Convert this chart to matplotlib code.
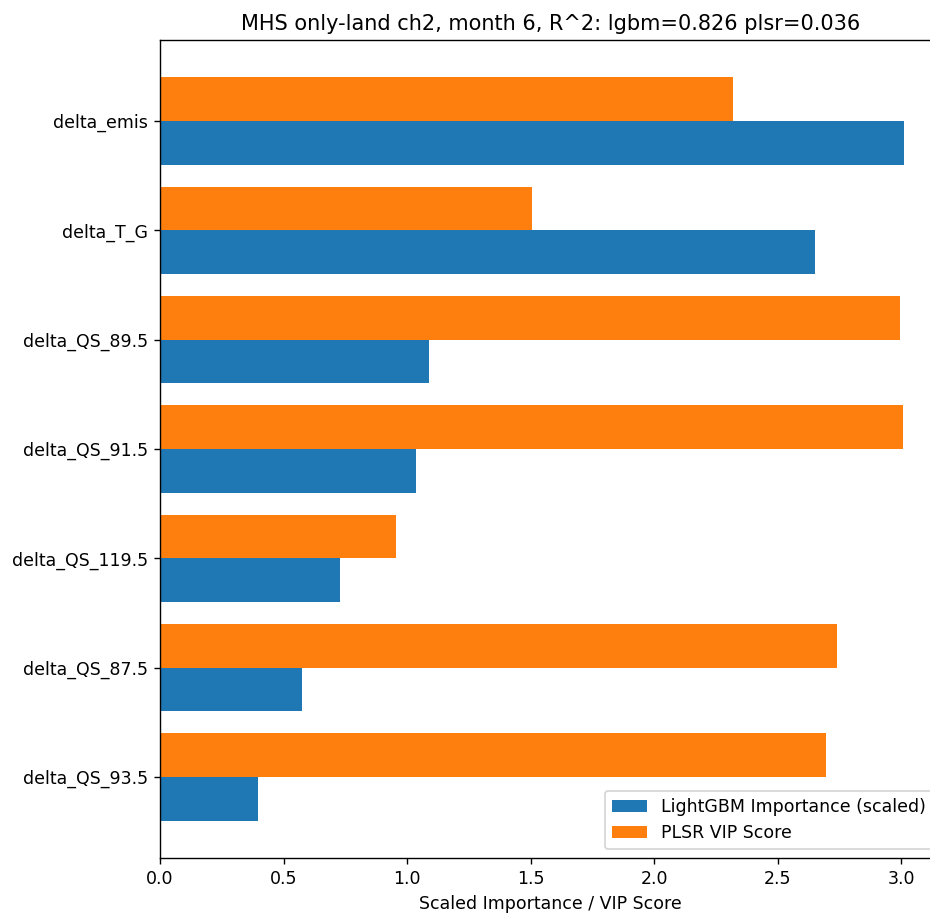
import numpy as np
import matplotlib
matplotlib.use("Agg")
import matplotlib.pyplot as plt

features = ['delta_emis', 'delta_T_G', 'delta_QS_89.5', 'delta_QS_91.5',
            'delta_QS_119.5', 'delta_QS_87.5', 'delta_QS_93.5']
lgbm_imp = [3.01, 2.652, 1.089, 1.034, 0.73, 0.575, 0.398]
plsr_vip = [2.32, 1.506, 2.996, 3.008, 0.956, 2.741, 2.694]
r2_lgbm = 0.826
r2_plsr = 0.036

dpi = 125
fig = plt.figure(figsize=(930 / dpi, 915 / dpi), dpi=dpi)
ax = fig.add_axes([160 / 930, 1 - 858 / 915, 781 / 930, 818 / 915])

y = np.arange(len(features))
h = 0.4
ax.barh(y + h / 2, lgbm_imp, height=h, label='LightGBM Importance (scaled)')
ax.barh(y - h / 2, plsr_vip, height=h, label='PLSR VIP Score')
ax.set_yticks(y)
ax.set_yticklabels(features)
ax.invert_yaxis()
ax.set_xlabel('Scaled Importance / VIP Score')
ax.set_title('MHS only-land ch2, month 6, R^2: lgbm=%.3f plsr=%.3f' % (r2_lgbm, r2_plsr))
ax.legend(loc='lower right')

fig.savefig('out.png', dpi=dpi)
